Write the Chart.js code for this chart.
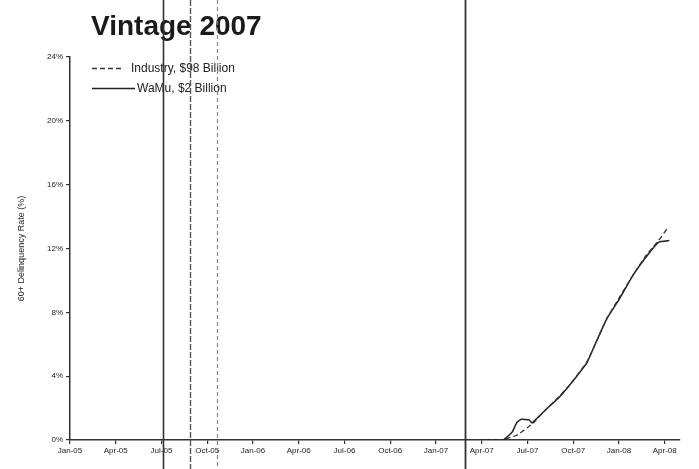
<!DOCTYPE html>
<html>
<head>
<meta charset="utf-8">
<script src="https://cdn.jsdelivr.net/npm/chart.js@4.4.1/dist/chart.umd.min.js"></script>
<style>
  html, body { margin: 0; padding: 0; background: #ffffff; }
  #wrap { width: 699px; height: 469px; position: relative; }
</style>
</head>
<body>
<div id="wrap"><canvas id="c" width="699" height="469"></canvas></div>
<script>
// ---- data (month index: 0 = Jan-05) ----
const chartTitle = 'Vintage 2007';
const tickLabels = ['Jan-05','Apr-05','Jul-05','Oct-05','Jan-06','Apr-06','Jul-06','Oct-06','Jan-07','Apr-07','Jul-07','Oct-07','Jan-08','Apr-08'];
const tickMonths = [0,3,6,9,12,15,18,21,24,27,30,33,36,39];
const yTickValues = [0,4,8,12,16,20,24];

const industryLabel = 'Industry, $98 Billion';
const industryMonths = [27, 28.3, 29.3, 30.3, 31.2, 32.1, 32.9, 33.9, 34.3, 35.2, 36.0, 36.9, 37.8, 38.6, 39.2];
const industryRate   = [0,  0,    0.3,  1.0,  1.9,  2.75, 3.6,  4.9,  5.7,  7.6,  8.9,  10.3, 11.6, 12.5, 13.3];

const wamuLabel = 'WaMu, $2 Billion';
const wamuMonths = [27, 28.4, 29.0, 29.3, 29.6, 30.1, 30.3, 31.2, 32.1, 32.9, 33.9, 34.3, 35.2, 36.0, 36.9, 37.8, 38.6, 39.3];
const wamuRate   = [0,  0,    0.5,  1.1,  1.3,  1.26, 1.07, 1.9,  2.7,  3.6,  4.85, 5.7,  7.6,  8.8,  10.3, 11.5, 12.4, 12.5];

// scan fold lines in the source picture (month positions)
const scanLineMonths = [6.1, 7.86, 9.63, 25.87];

const toPts = (xs, ys) => xs.map((x, i) => ({ x: x, y: ys[i] }));
const FONT = '"Liberation Sans", Arial, sans-serif';

const titlePlugin = {
  id: 'leftTitle',
  afterDraw(chart) {
    const ctx = chart.ctx;
    ctx.save();
    ctx.font = 'bold 28px ' + FONT;
    ctx.fillStyle = '#1a1a1a';
    ctx.textBaseline = 'alphabetic';
    ctx.textAlign = 'left';
    ctx.fillText(chartTitle, chart.chartArea.left + 21, 35);
    ctx.restore();
  }
};

const legendPlugin = {
  id: 'innerLegend',
  afterDatasetsDraw(chart) {
    const ctx = chart.ctx;
    const a = chart.chartArea;
    const sampleW = [31, 43];
    const rowY = [11, 31];
    chart.data.datasets.forEach((ds, i) => {
      const x0 = a.left + 22;
      const y = a.top + rowY[i] + 0.5;
      ctx.save();
      ctx.strokeStyle = ds.borderColor;
      ctx.lineWidth = ds.borderWidth;
      ctx.setLineDash(ds.borderDash || []);
      ctx.beginPath();
      ctx.moveTo(x0, y);
      ctx.lineTo(x0 + sampleW[i], y);
      ctx.stroke();
      ctx.setLineDash([]);
      ctx.fillStyle = '#222';
      ctx.font = '12px ' + FONT;
      ctx.textBaseline = 'middle';
      ctx.textAlign = 'left';
      ctx.fillText(ds.label, x0 + sampleW[i] + 8 - i * 6, y);
      ctx.restore();
    });
  }
};

const scanPlugin = {
  id: 'scanLines',
  afterDraw(chart) {
    const ctx = chart.ctx;
    const xs = chart.scales.x;
    const styles = [
      { w: 1.6, dash: [], c: '#333' },
      { w: 1.4, dash: [6, 2], c: '#555' },
      { w: 1.2, dash: [4, 3], c: '#888' },
      { w: 1.8, dash: [], c: '#333' }
    ];
    scanLineMonths.forEach((m, i) => {
      const px = Math.round(xs.getPixelForValue(m)) + 0.5;
      const s = styles[i];
      ctx.save();
      ctx.strokeStyle = s.c;
      ctx.lineWidth = s.w;
      ctx.setLineDash(s.dash);
      ctx.beginPath();
      ctx.moveTo(px, 0);
      ctx.lineTo(px, chart.height);
      ctx.stroke();
      ctx.restore();
    });
  }
};

new Chart(document.getElementById('c'), {
  type: 'line',
  data: {
    datasets: [
      {
        label: industryLabel,
        data: toPts(industryMonths, industryRate),
        borderColor: '#333',
        backgroundColor: '#333',
        borderWidth: 1.3,
        borderDash: [5, 3],
        pointRadius: 0,
        tension: 0.1,
        fill: false
      },
      {
        label: wamuLabel,
        data: toPts(wamuMonths, wamuRate),
        borderColor: '#222',
        backgroundColor: '#222',
        borderWidth: 1.5,
        pointRadius: 0,
        tension: 0.1,
        fill: false
      }
    ]
  },
  options: {
    responsive: false,
    animation: false,
    layout: { padding: { left: 10, right: 19, top: 57, bottom: 8 } },
    scales: {
      x: {
        type: 'linear',
        min: 0,
        max: 40,
        afterBuildTicks(scale) { scale.ticks = tickMonths.map(v => ({ value: v })); },
        afterFit(scale) { scale.height = 21; },
        border: { display: true, color: '#333', width: 1.5 },
        grid: { display: true, drawOnChartArea: false, drawTicks: true, tickLength: 4, color: '#333', lineWidth: 1.2 },
        ticks: {
          autoSkip: false,
          maxRotation: 0,
          padding: 2,
          color: '#222',
          font: { family: FONT, size: 8 },
          callback(v) { const i = tickMonths.indexOf(v); return i >= 0 ? tickLabels[i] : ''; }
        }
      },
      y: {
        min: 0,
        max: 24,
        afterBuildTicks(scale) { scale.ticks = yTickValues.map(v => ({ value: v })); },
        afterFit(scale) { scale.width = 60; },
        border: { display: true, color: '#333', width: 1.5 },
        grid: { display: true, drawOnChartArea: false, drawTicks: true, tickLength: 4, color: '#333', lineWidth: 1.2 },
        ticks: {
          padding: 3,
          color: '#222',
          font: { family: FONT, size: 8 },
          callback(v) { return v + '%'; }
        },
        title: {
          display: true,
          text: '60+ Delinquency Rate (%)',
          color: '#222',
          padding: { top: 6, bottom: 0 },
          font: { family: FONT, size: 9 }
        }
      }
    },
    plugins: {
      title: { display: false },
      tooltip: { enabled: false },
      legend: { display: false }
    }
  },
  plugins: [titlePlugin, legendPlugin, scanPlugin]
});
</script>
</body>
</html>
